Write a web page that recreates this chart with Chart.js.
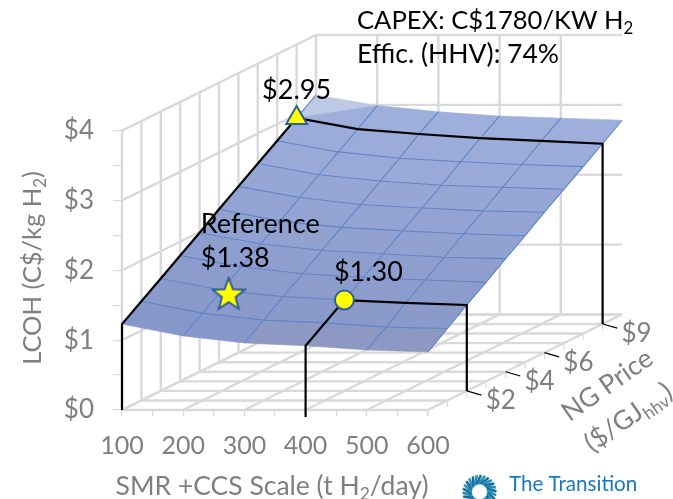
<!DOCTYPE html>
<html><head><meta charset="utf-8">
<style>html,body{margin:0;padding:0;background:#fff;overflow:hidden}canvas{display:block}</style>
<script src="https://cdn.jsdelivr.net/npm/chart.js@4"></script></head>
<body><canvas id="c" width="673" height="499"></canvas>
<script>
const scaleTicks = [100, 200, 300, 400, 500, 600];
const priceSteps = [0, 1, 2, 3, 4, 5, 6, 7, 8, 9, 10];
const priceLabels = [2, 4, 6, 9];
const lcohTicks = [0, 1, 2, 3, 4];
// LCOH (C$/kg H2): one row per NG price, one column per plant scale
const lcohP0  = [1.23, 1.06, 0.96, 0.92, 0.86, 0.83];
const lcohP1  = [1.42, 1.25, 1.15, 1.11, 1.05, 1.03];
const lcohP2  = [1.61, 1.44, 1.35, 1.30, 1.26, 1.23];
const lcohP3  = [1.80, 1.64, 1.54, 1.49, 1.45, 1.42];
const lcohP4  = [1.99, 1.83, 1.74, 1.69, 1.64, 1.62];
const lcohP5  = [2.19, 2.02, 1.93, 1.88, 1.84, 1.81];
const lcohP6  = [2.38, 2.22, 2.12, 2.07, 2.03, 2.01];
const lcohP7  = [2.57, 2.41, 2.32, 2.26, 2.23, 2.20];
const lcohP8  = [2.76, 2.60, 2.51, 2.46, 2.42, 2.39];
const lcohP9  = [2.95, 2.79, 2.72, 2.66, 2.62, 2.58];
const lcohP10 = [3.14, 2.99, 2.90, 2.84, 2.81, 2.78];
const surface = [lcohP0,lcohP1,lcohP2,lcohP3,lcohP4,lcohP5,lcohP6,lcohP7,lcohP8,lcohP9,lcohP10];
const starPoint = {s: 211, p: 2, z: 1.38};
const circlePoint = {s: 400, p: 2, z: 1.30};
const trianglePoint = {s: 100, p: 9, z: 2.95};

// oblique projection: each $ of NG price shifts a point along the two chart axes
const DEPTH_X = 31.7, DEPTH_Y = 0.1368;
const pr = (s, p, z) => ({x: s + p * DEPTH_X, y: z + p * DEPTH_Y});
const S0 = scaleTicks[0], S1 = scaleTicks[5], P1 = 10, Z1 = 4;

const GRID = '#d9d9d9', BLUE = '#6085c8', GREY = '#7f7f7f', INK = '#000';
const FONT = 'Lato, sans-serif';
const ds = [];
const line = (pts, color, w, order) => ds.push({data: pts, showLine: true, borderColor: color, borderWidth: w,
  pointRadius: 0, fill: false, order, clip: false, tension: 0});

// marks (top)
const mark = (pt, style, r) => ds.push({data: [pr(pt.s, pt.p, pt.z)], showLine: false, pointStyle: style, pointRadius: r,
  pointBackgroundColor: '#ffff00', pointBorderColor: '#2f5f96', pointBorderWidth: 2, order: 0, clip: false});
const starCanvas = document.createElement('canvas'); starCanvas.width = starCanvas.height = 36;
(() => { const g = starCanvas.getContext('2d'); g.beginPath();
  for (let i = 0; i < 10; i++) { const r = i % 2 ? 7.2 : 17, a = -Math.PI / 2 + i * Math.PI / 5;
    g.lineTo(18 + r * Math.cos(a), 18.5 + r * Math.sin(a)); }
  g.closePath(); g.fillStyle = '#ffff00'; g.strokeStyle = '#2f5f96'; g.lineWidth = 2; g.lineJoin = 'miter'; g.fill(); g.stroke(); })();
mark(trianglePoint, 'triangle', 12); mark(circlePoint, 'circle', 9.5); mark(starPoint, starCanvas, 16);

// black guide lines
const col = i => surface.map((r, k) => pr(scaleTicks[i], priceSteps[k], r[i]));
const row = k => surface[k].map((z, i) => pr(scaleTicks[i], priceSteps[k], z));
const p9 = row(9), p2 = row(2);
line([pr(S0, 0, 0), pr(S0, 0, surface[0][0]), ...col(0).slice(1, 10), ...p9.slice(1), pr(S1, 9, 0)], INK, 2.2, 1);
line([pr(400, 0, -0.1), pr(400, 0, surface[0][3]), pr(400, 2, surface[2][3]), ...p2.slice(4), pr(S1, 2, 0)], INK, 2.2, 1);
priceLabels.forEach(p => { const a = pr(S1, p, 0); line([a, {x: a.x + 24, y: a.y - 0.06}], INK, 1.2, 1); });

// surface mesh lines, then cells
scaleTicks.forEach((_, i) => line(col(i), BLUE, 1.1, 2));
surface.forEach((_, k) => { if (k > 0 && k < 10) line(row(k), BLUE, 1.1, 2); });
const bandColor = k => { const t = k / 9;
  return `rgb(${Math.round(134 + 24 * t)},${Math.round(151 + 24 * t)},${Math.round(201 + 19 * t)})`; };
const cell = (pts, color, order) => ds.push({data: [...pts, pts[0]], showLine: true, pointRadius: 0, borderWidth: 0.6,
  borderColor: color, backgroundColor: color, fill: 'shape', order, tension: 0});
for (let k = 0; k < 10; k++) for (let i = 0; i < 5; i++) {
  const a = row(k), b = row(k + 1);
  const order = 3 + (10 - k);
  if (k === 9 && i === 0) {        // the fold at the far corner
    cell([a[i], a[i + 1], b[i + 1]], bandColor(9), order);
    cell([a[i], b[i + 1], b[i]], '#bdcae6', order);
  } else {
    cell([a[i], a[i + 1], b[i + 1], b[i]], (k === 0 && i >= 2) ? '#8d99c2' : bandColor(k), order);
  }
}

// walls and floor
const ORDER = 20;
scaleTicks.forEach(s => { line([pr(s, 0, 0), pr(s, P1, 0), pr(s, P1, Z1)], GRID, 2.4, ORDER); });
priceSteps.forEach(p => { line([pr(S0, p, Z1), pr(S0, p, 0), pr(S1, p, 0)], GRID, 2.4, ORDER); });
lcohTicks.forEach(z => { line([pr(S0, 0, z), pr(S0, P1, z), pr(S1, P1, z)], GRID, 2.4, ORDER); });
// small hanging ticks along the right floor edge
priceSteps.slice(0, 10).forEach(p => { const a = pr(S1, p, 0); line([a, {x: a.x, y: a.y - 0.09}], GRID, 1.2, ORDER); });

function runs(ctx, parts, x, y, size, color, align) {
  ctx.fillStyle = color; ctx.textBaseline = 'alphabetic'; ctx.textAlign = 'left';
  const m = p => { ctx.font = `${p.sub ? size * 0.66 : size}px ${FONT}`; return ctx.measureText(p.t).width; };
  let w = 0; parts.forEach(p => w += m(p));
  let cx = align === 'center' ? x - w / 2 : x;
  parts.forEach(p => { const d = m(p); ctx.fillText(p.t, cx, p.sub ? y + size * 0.2 : y); cx += d; });
}
const T = t => ({t}), U = t => ({t, sub: true});
const annotate = {
  id: 'annotate',
  afterDatasetsDraw(chart) {
    const c = chart.ctx, X = chart.scales.x, Y = chart.scales.y;
    const at = pt => { const q = pr(pt.s, pt.p, pt.z); return [X.getPixelForValue(q.x), Y.getPixelForValue(q.y)]; };
    c.save();
    let [tx, ty] = at(trianglePoint); runs(c, [T('$' + trianglePoint.z.toFixed(2))], tx + 0, ty - 19, 27, INK, 'center');
    let [sx, sy] = at(starPoint);
    runs(c, [T('Reference')], sx - 28, sy - 61, 27, INK);
    runs(c, [T('$' + starPoint.z.toFixed(2))], sx - 28, sy - 27, 27, INK);
    let [ox, oy] = at(circlePoint); runs(c, [T('$' + circlePoint.z.toFixed(2))], ox + 24, oy - 19, 27, INK, 'center');
    runs(c, [T('CAPEX: C$1780/KW H'), U('2')], 357, 29, 25.6, INK);
    runs(c, [T('Effic. (HHV): 74%')], 357, 63, 26.5, INK);
    priceLabels.forEach(p => { const a = pr(S1, p, 0);
      runs(c, [T('$' + p)], X.getPixelForValue(a.x) + 34, Y.getPixelForValue(a.y) + 18, 26, GREY, 'center'); });
    // axis titles
    runs(c, [T('SMR +CCS Scale (t H'), U('2'), T('/day)')], 272, 495, 26.5, GREY, 'center');
    c.save(); c.translate(41, 268); c.rotate(-Math.PI / 2);
    runs(c, [T('LCOH (C$/kg H'), U('2'), T(')')], 0, 0, 25.5, GREY, 'center'); c.restore();
    c.save(); c.translate(607, 385); c.rotate(-35 * Math.PI / 180);
    runs(c, [T('NG Price')], 0, 9, 26.5, GREY, 'center'); c.restore();
    c.save(); c.translate(628, 417); c.rotate(-35 * Math.PI / 180);
    runs(c, [T('($/GJ'), U('hhv'), T(')')], 0, 9, 26.5, GREY, 'center'); c.restore();
    // publisher mark
    for (let i = 0; i < 26; i++) { const a = i / 26 * Math.PI * 2;
      c.beginPath(); c.moveTo(479.5 + 8 * Math.cos(a), 492 + 8 * Math.sin(a));
      c.lineTo(479.5 + 17 * Math.cos(a + 0.45), 492 + 17 * Math.sin(a + 0.45));
      c.strokeStyle = i % 2 ? '#2a8fb8' : '#176e98'; c.lineWidth = 2.6; c.stroke(); }
    runs(c, [T('The Transition')], 509, 491, 20.6, '#1a78c2');
    c.restore();
  }
};

new Chart(document.getElementById('c'), {
  type: 'scatter',
  data: {datasets: ds},
  plugins: [annotate],
  options: {
    responsive: false, animation: false, devicePixelRatio: 1,
    layout: {padding: {top: 29, right: 51, left: 0, bottom: 0}},
    plugins: {legend: {display: false}, tooltip: {enabled: false}},
    scales: {
      x: {
        type: 'linear', min: S0, max: S0 + 500 / 0.612,
        afterBuildTicks: a => { a.ticks = []; for (let v = S0; v <= S1; v += 50) a.ticks.push({value: v}); },
        afterFit: a => { a.height = 89; },
        border: {display: false},
        grid: {drawOnChartArea: false, drawTicks: true, tickLength: 6, color: GRID, lineWidth: 1.2},
        ticks: {autoSkip: false, maxRotation: 0, padding: 15, color: GREY, font: {family: FONT, size: 25},
          callback: v => scaleTicks.includes(v) ? String(v) : ''}
      },
      y: {
        type: 'linear', min: 0, max: 381 / 70.9,
        afterBuildTicks: a => { a.ticks = []; for (let v = 0; v <= Z1; v += 0.5) a.ticks.push({value: v}); },
        afterFit: a => { a.width = 122; },
        border: {display: false},
        grid: {drawOnChartArea: false, drawTicks: true, tickLength: 9, color: GRID, lineWidth: 1.2},
        ticks: {padding: 19, color: GREY, font: {family: FONT, size: 26},
          callback: v => lcohTicks.includes(v) ? '$' + v : ''}
      }
    }
  }
});
</script></body></html>
